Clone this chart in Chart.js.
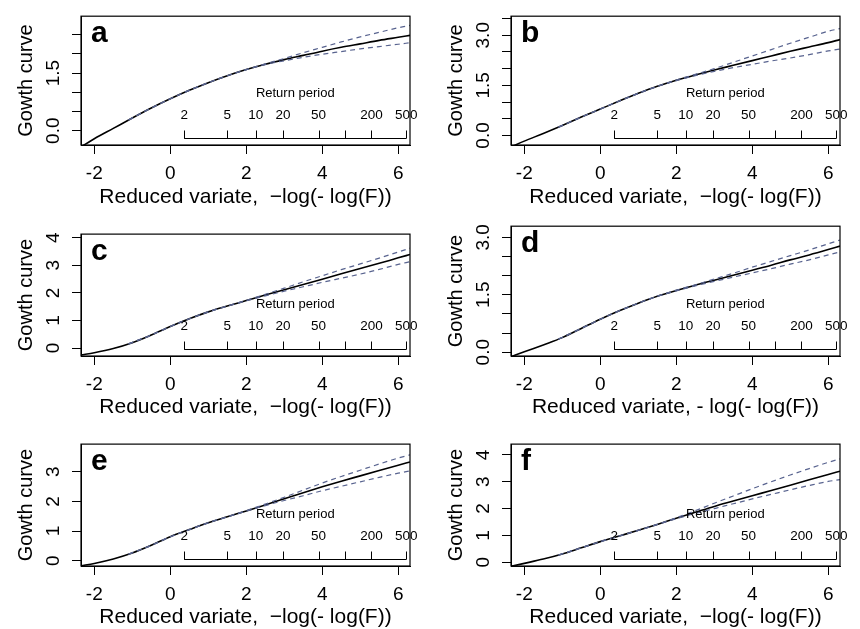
<!DOCTYPE html>
<html>
<head>
<meta charset="utf-8">
<title>Growth curves</title>
<script src="https://cdn.jsdelivr.net/npm/chart.js@4.4.1/dist/chart.umd.min.js"></script>
<style>
  html, body { margin: 0; padding: 0; background: #fff; }
  body { width: 860px; height: 629px; position: relative; overflow: hidden; }
  .panel { position: absolute; width: 430px; height: 210px; }
</style>
</head>
<body>
<div class="panel" style="left:0;top:0"><canvas id="pa" width="430" height="210"></canvas></div>
<div class="panel" style="left:430px;top:0"><canvas id="pb" width="430" height="210"></canvas></div>
<div class="panel" style="left:0;top:210px"><canvas id="pc" width="430" height="210"></canvas></div>
<div class="panel" style="left:430px;top:210px"><canvas id="pd" width="430" height="210"></canvas></div>
<div class="panel" style="left:0;top:420px"><canvas id="pe" width="430" height="210"></canvas></div>
<div class="panel" style="left:430px;top:420px"><canvas id="pf" width="430" height="210"></canvas></div>
<script>
// reduced variate grid for the fitted curve and for the confidence bands
const curveX = [-2.35, -2, -1.5, -1, -0.5, 0, 0.5, 1, 1.5, 2, 2.5, 3, 3.5, 4, 4.5, 5, 5.5, 6, 6.31];
const bandX = [-1.1, -0.5, 0, 0.5, 1, 1.5, 2, 2.5, 3, 3.5, 4, 4.5, 5, 5.5, 6, 6.31];

const aCurve = [-0.42, -0.21, 0.06, 0.33, 0.59, 0.83, 1.05, 1.25, 1.43, 1.59, 1.73, 1.85, 1.96, 2.07, 2.17, 2.26, 2.35, 2.43, 2.48];
const aUpper = [0.28, 0.59, 0.83, 1.05, 1.25, 1.43, 1.59, 1.74, 1.88, 2.03, 2.17, 2.31, 2.44, 2.56, 2.68, 2.74];
const aLower = [0.28, 0.59, 0.83, 1.05, 1.25, 1.43, 1.59, 1.72, 1.82, 1.91, 1.99, 2.06, 2.13, 2.19, 2.25, 2.29];

const bCurve = [-0.34, -0.17, 0.06, 0.30, 0.55, 0.79, 1.03, 1.26, 1.47, 1.65, 1.81, 1.96, 2.10, 2.24, 2.38, 2.52, 2.65, 2.78, 2.87];
const bUpper = [0.25, 0.55, 0.79, 1.03, 1.26, 1.47, 1.66, 1.83, 2.00, 2.19, 2.38, 2.57, 2.76, 2.94, 3.12, 3.20];
const bLower = [0.25, 0.55, 0.79, 1.03, 1.26, 1.47, 1.64, 1.79, 1.92, 2.03, 2.13, 2.23, 2.32, 2.42, 2.53, 2.59];

const cCurve = [-0.25, -0.17, -0.02, 0.19, 0.47, 0.78, 1.06, 1.31, 1.52, 1.72, 1.92, 2.11, 2.30, 2.49, 2.69, 2.88, 3.07, 3.27, 3.39];
const cUpper = [0.15, 0.47, 0.78, 1.06, 1.31, 1.52, 1.73, 1.95, 2.17, 2.40, 2.62, 2.84, 3.05, 3.26, 3.48, 3.62];
const cLower = [0.15, 0.47, 0.78, 1.06, 1.31, 1.52, 1.71, 1.89, 2.06, 2.22, 2.38, 2.53, 2.68, 2.85, 3.03, 3.13];

const dCurve = [-0.12, 0.01, 0.19, 0.38, 0.62, 0.86, 1.08, 1.28, 1.46, 1.61, 1.75, 1.88, 2.01, 2.14, 2.27, 2.41, 2.54, 2.68, 2.77];
const dUpper = [0.34, 0.62, 0.86, 1.08, 1.28, 1.46, 1.62, 1.76, 1.91, 2.06, 2.22, 2.37, 2.52, 2.67, 2.83, 2.93];
const dLower = [0.34, 0.62, 0.86, 1.08, 1.28, 1.46, 1.60, 1.73, 1.85, 1.96, 2.07, 2.18, 2.30, 2.41, 2.54, 2.62];

const eCurve = [-0.17, -0.09, 0.06, 0.26, 0.52, 0.81, 1.05, 1.28, 1.48, 1.68, 1.88, 2.09, 2.29, 2.49, 2.68, 2.86, 3.04, 3.22, 3.33];
const eUpper = [0.22, 0.52, 0.81, 1.05, 1.28, 1.48, 1.69, 1.91, 2.14, 2.38, 2.62, 2.84, 3.05, 3.26, 3.46, 3.57];
const eLower = [0.22, 0.52, 0.81, 1.05, 1.28, 1.48, 1.67, 1.86, 2.03, 2.19, 2.36, 2.51, 2.66, 2.81, 2.95, 3.03];

const fCurve = [-0.15, -0.04, 0.12, 0.31, 0.54, 0.77, 0.98, 1.19, 1.41, 1.64, 1.86, 2.08, 2.28, 2.48, 2.67, 2.87, 3.07, 3.27, 3.39];
const fUpper = [0.27, 0.54, 0.77, 0.98, 1.19, 1.41, 1.66, 1.92, 2.20, 2.47, 2.74, 3.00, 3.25, 3.49, 3.72, 3.85];
const fLower = [0.27, 0.54, 0.77, 0.98, 1.19, 1.41, 1.62, 1.82, 2.00, 2.18, 2.36, 2.53, 2.70, 2.86, 3.01, 3.08];

// axis ticks
const xTicks = [-2, 0, 2, 4, 6];
const xTickLabels = ['-2', '0', '2', '4', '6'];
const halfTicks25 = [0, 0.5, 1, 1.5, 2, 2.5];
const halfLabels25 = ['0.0', '', '', '1.5', '', ''];
const halfTicks35 = [0, 0.5, 1, 1.5, 2, 2.5, 3, 3.5];
const halfLabels35 = ['0.0', '', '', '1.5', '', '', '3.0', ''];
const halfTicks30 = [0, 0.5, 1, 1.5, 2, 2.5, 3];
const halfLabels30 = ['0.0', '', '', '1.5', '', '', '3.0'];
const intTicks3 = [0, 1, 2, 3];
const intLabels3 = ['0', '1', '2', '3'];
const intTicks4 = [0, 1, 2, 3, 4];
const intLabels4 = ['0', '1', '2', '3', '4'];

// return period axis
const returnPeriods = [2, 5, 10, 20, 50, 100, 200, 500];
const rpLabels = ['2', '5', '10', '20', '50', '', '200', '500'];

const FONT = '"Liberation Sans", Arial, sans-serif';
const xTitleStd = 'Reduced variate,  \u2212log(- log(F))';
const xTitleAlt = 'Reduced variate, - log(- log(F))';

const panels = [
  { id: 'pa', letter: 'a', curve: aCurve, upper: aUpper, lower: aLower, yTicks: halfTicks25, yLabels: halfLabels25, yMin: -0.372, yMax: 2.98, top: 10, xAxisH: 65, xTitle: xTitleStd },
  { id: 'pb', letter: 'b', curve: bCurve, upper: bUpper, lower: bLower, yTicks: halfTicks35, yLabels: halfLabels35, yMin: -0.286, yMax: 3.571, top: 10, xAxisH: 65, xTitle: xTitleStd },
  { id: 'pc', letter: 'c', curve: cCurve, upper: cUpper, lower: cLower, yTicks: intTicks4, yLabels: intLabels4, yMin: -0.29, yMax: 4.13, top: 10, xAxisH: 64, xTitle: xTitleStd },
  { id: 'pd', letter: 'd', curve: dCurve, upper: dUpper, lower: dLower, yTicks: halfTicks30, yLabels: halfLabels30, yMin: -0.10, yMax: 3.29, top: 10, xAxisH: 64, xTitle: xTitleAlt },
  { id: 'pe', letter: 'e', curve: eCurve, upper: eUpper, lower: eLower, yTicks: intTicks3, yLabels: intLabels3, yMin: -0.177, yMax: 3.93, top: 13, xAxisH: 64, xTitle: xTitleStd },
  { id: 'pf', letter: 'f', curve: fCurve, upper: fUpper, lower: fLower, yTicks: intTicks4, yLabels: intLabels4, yMin: -0.137, yMax: 4.40, top: 13, xAxisH: 64, xTitle: xTitleStd }
];

const measureCtx = document.createElement('canvas').getContext('2d');
function yTickPad(labels) {
  // keep rotated labels centred at the same distance from the axis
  measureCtx.font = '19px ' + FONT;
  const w = Math.max(...labels.map(s => measureCtx.measureText(s).width));
  return 18 - w / 2;
}

const panelDecor = {
  id: 'panelDecor',
  afterDatasetsDraw(chart, args, opts) {
    const { ctx, chartArea: a, scales: { x } } = chart;
    ctx.save();
    ctx.strokeStyle = '#000';
    ctx.lineWidth = 1.2;
    ctx.strokeRect(a.left, a.top, a.right - a.left, a.bottom - a.top);

    const rv = returnPeriods.map(T => -Math.log(-Math.log(1 - 1 / T)));
    const yLine = Math.round(a.bottom - 7) + 0.5;
    ctx.lineWidth = 1;
    ctx.beginPath();
    ctx.moveTo(x.getPixelForValue(rv[0]), yLine);
    ctx.lineTo(x.getPixelForValue(rv[rv.length - 1]), yLine);
    rv.forEach(v => {
      const px = Math.round(x.getPixelForValue(v)) + 0.5;
      ctx.moveTo(px, yLine);
      ctx.lineTo(px, yLine - 8);
    });
    ctx.stroke();

    ctx.fillStyle = '#000';
    ctx.textAlign = 'center';
    ctx.textBaseline = 'middle';
    ctx.font = '13.5px ' + FONT;
    rv.forEach((v, i) => ctx.fillText(rpLabels[i], x.getPixelForValue(v), yLine - 23.5));
    ctx.font = '13px ' + FONT;
    ctx.fillText('Return period', x.getPixelForValue((rv[0] + rv[rv.length - 1]) / 2), yLine - 45);

    ctx.font = 'bold 30px ' + FONT;
    ctx.textAlign = 'left';
    ctx.textBaseline = 'alphabetic';
    ctx.fillText(opts.letter, a.left + 10, a.top + 26);
    ctx.restore();
  }
};

panels.forEach(p => {
  const ctx = document.getElementById(p.id).getContext('2d');
  const band = (vals) => ({
    data: bandX.map((x, i) => ({ x: x, y: vals[i] })),
    borderColor: '#58638f',
    borderWidth: 1.2,
    borderDash: [5, 4],
    pointRadius: 0,
    cubicInterpolationMode: 'monotone',
    fill: false
  });
  new Chart(ctx, {
    type: 'line',
    data: {
      datasets: [
        band(p.upper),
        band(p.lower),
        {
          data: curveX.map((x, i) => ({ x: x, y: p.curve[i] })),
          borderColor: '#000',
          borderWidth: 1.6,
          pointRadius: 0,
          cubicInterpolationMode: 'monotone',
          fill: false
        }
      ]
    },
    options: {
      responsive: false,
      animation: false,
      events: [],
      layout: { padding: { top: p.top, right: 20, left: 0, bottom: 0 } },
      plugins: {
        legend: { display: false },
        tooltip: { enabled: false },
        panelDecor: { letter: p.letter }
      },
      scales: {
        x: {
          type: 'linear',
          min: -2.35,
          max: 6.31,
          afterBuildTicks: s => { s.ticks = xTicks.map(v => ({ value: v })); },
          afterFit: s => { s.height = p.xAxisH; },
          ticks: {
            autoSkip: false,
            maxRotation: 0,
            padding: 8,
            color: '#000',
            font: { size: 19, family: FONT },
            callback: (v, i) => xTickLabels[i]
          },
          grid: { drawOnChartArea: false, drawTicks: true, tickLength: 9, color: '#000', tickColor: '#000' },
          border: { display: true, color: '#000' },
          title: { display: true, text: p.xTitle, color: '#000', font: { size: 21, family: FONT }, padding: { top: 0, bottom: 0 } }
        },
        y: {
          type: 'linear',
          min: p.yMin,
          max: p.yMax,
          afterBuildTicks: s => { s.ticks = p.yTicks.map(v => ({ value: v })); },
          afterFit: s => { s.width = 81; },
          ticks: {
            autoSkip: false,
            minRotation: 90,
            maxRotation: 90,
            crossAlign: 'center',
            padding: yTickPad(p.yLabels),
            color: '#000',
            font: { size: 19, family: FONT },
            callback: (v, i) => p.yLabels[i]
          },
          grid: { drawOnChartArea: false, drawTicks: true, tickLength: 9, color: '#000', tickColor: '#000' },
          border: { display: true, color: '#000' },
          title: { display: true, text: 'Gowth curve', color: '#000', font: { size: 20, family: FONT }, padding: { top: 14, bottom: 0 } }
        }
      }
    },
    plugins: [panelDecor]
  });
});
</script>
</body>
</html>
